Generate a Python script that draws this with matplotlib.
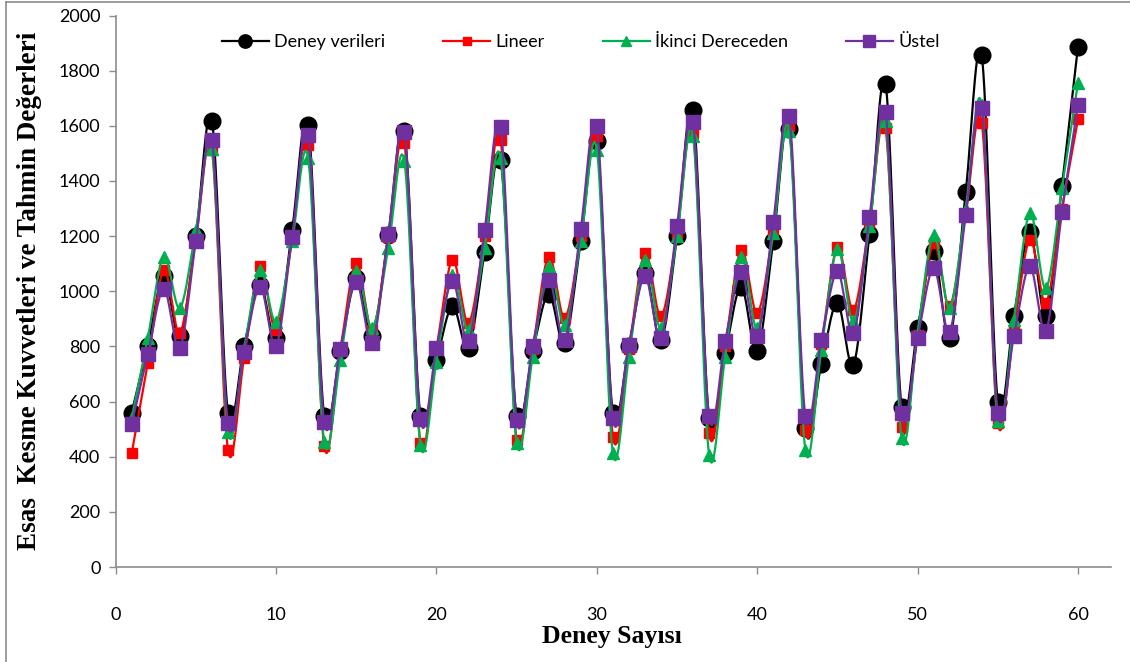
import numpy as np
import matplotlib
matplotlib.use("Agg")
import matplotlib.pyplot as plt
from matplotlib.lines import Line2D

# ---- data ----
deney_sayisi = list(range(1, 61))
deney_verileri = [560, 802, 1054, 836, 1201, 1619, 560, 800, 1024, 830,
                  1221, 1604, 548, 782, 1048, 836, 1205, 1580, 548, 749,
                  947, 794, 1142, 1477, 546, 782, 991, 812, 1181, 1544,
                  560, 802, 1066, 822, 1199, 1656, 540, 776, 1017, 782,
                  1181, 1590, 503, 737, 959, 733, 1209, 1753, 582, 866,
                  1145, 830, 1359, 1855, 600, 909, 1214, 911, 1381, 1887]
lineer = [413, 739, 1078, 848, 1190, 1514, 425, 757, 1090, 860,
          1190, 1532, 439, 785, 1102, 860, 1195, 1538, 451, 790,
          1114, 885, 1200, 1550, 461, 790, 1126, 903, 1200, 1562,
          473, 790, 1139, 909, 1210, 1574, 485, 800, 1151, 921,
          1220, 1600, 497, 810, 1159, 933, 1250, 1592, 509, 840,
          1175, 945, 1280, 1611, 522, 860, 1187, 959, 1300, 1623]
ikinci_dereceden = [540, 830, 1126, 939, 1223, 1516, 491, 790, 1078, 890,
                    1181, 1483, 455, 751, 1072, 866, 1157, 1471, 443, 745,
                    1060, 860, 1157, 1483, 449, 763, 1090, 878, 1181, 1514,
                    413, 763, 1114, 866, 1199, 1562, 407, 763, 1126, 866,
                    1211, 1580, 425, 788, 1155, 891, 1235, 1616, 467, 850,
                    1205, 940, 1300, 1675, 530, 897, 1284, 1011, 1375, 1756]
ustel = [518, 772, 1008, 794, 1184, 1547, 522, 779, 1017, 802,
         1195, 1568, 527, 790, 1032, 812, 1208, 1577, 536, 794,
         1036, 818, 1221, 1596, 534, 802, 1042, 824, 1227, 1598,
         540, 806, 1054, 830, 1238, 1613, 546, 818, 1069, 836,
         1250, 1635, 548, 824, 1072, 848, 1268, 1649, 558, 830,
         1084, 854, 1275, 1665, 558, 836, 1090, 857, 1286, 1677]

series_names = ["Deney verileri", "Lineer", "İkinci Dereceden", "Üstel"]
x_ticks = [0, 10, 20, 30, 40, 50, 60]
y_ticks = [0, 200, 400, 600, 800, 1000, 1200, 1400, 1600, 1800, 2000]


def smooth(xs, ys, n=20):
    """Excel-style smoothed line: cubic Bezier with Catmull-Rom control points."""
    P = np.column_stack([xs, ys]).astype(float)
    m = len(P)
    out = []
    t = np.linspace(0, 1, n)[:, None]
    for i in range(m - 1):
        p0 = P[max(i - 1, 0)]
        p1 = P[i]
        p2 = P[i + 1]
        p3 = P[min(i + 2, m - 1)]
        c1 = p1 + (p2 - p0) / 6.0
        c2 = p2 - (p3 - p1) / 6.0
        seg = ((1 - t) ** 3) * p1 + 3 * ((1 - t) ** 2) * t * c1 + 3 * (1 - t) * t ** 2 * c2 + t ** 3 * p2
        out.append(seg if i == 0 else seg[1:])
    seg = np.vstack(out)
    return seg[:, 0], seg[:, 1]


W, H = 1130, 662
fig = plt.figure(figsize=(W / 100, H / 100), dpi=100)
ax = fig.add_axes([115.7 / W, 1 - 567 / H, (1111 - 115.7) / W, (567 - 15.5) / H])

styles = [
    dict(color="#000000", marker="o", ms=12),
    dict(color="#FF0000", marker="s", ms=7),
    dict(color="#00B050", marker="^", ms=8.5),
    dict(color="#7030A0", marker="s", ms=10),
]
data = [deney_verileri, lineer, ikinci_dereceden, ustel]
handles = []
for k, (vals, st, name) in enumerate(zip(data, styles, series_names)):
    sx, sy = smooth(deney_sayisi, vals)
    ax.plot(sx, sy, color=st["color"], lw=1.6, zorder=2 + k)
    ax.plot(deney_sayisi, vals, linestyle="none", marker=st["marker"], ms=st["ms"],
            color=st["color"], mec=st["color"], zorder=2 + k)
    handles.append(Line2D([], [], color=st["color"], lw=1.6, marker=st["marker"],
                          ms=st["ms"] * 0.8, mec=st["color"]))

ax.set_xlim(0, 62.06)
ax.set_ylim(0, 2000)
ax.set_xticks(x_ticks)
ax.set_yticks(y_ticks)

for lab in ax.get_xticklabels() + ax.get_yticklabels():
    lab.set_fontfamily("Lato")
    lab.set_fontsize(13)

for s in ["top", "right"]:
    ax.spines[s].set_visible(False)
for s in ["left", "bottom"]:
    ax.spines[s].set_color("#8c8c8c")
    ax.spines[s].set_linewidth(1.2)
ax.tick_params(axis="x", direction="out", length=5, width=1, color="#8c8c8c", pad=24)
ax.tick_params(axis="y", direction="out", length=5, width=1, color="#8c8c8c", pad=6)

serif = ["Liberation Serif", "DejaVu Serif"]
fig.text(612 / W, 1 - 636 / H, "Deney Sayısı", family=serif, weight="bold",
         fontsize=18.5, ha="center", va="center")
fig.text(30 / W, 1 - 291 / H, "Esas  Kesme Kuvvetleri ve Tahmin Değerleri", family=serif,
         weight="bold", fontsize=19.5, ha="center", va="center", rotation=90)

leg = ax.legend(handles, series_names, loc="center left", ncol=4, frameon=False,
                bbox_to_anchor=((222 - 115.7) / (1111 - 115.7), (567 - 42) / (567 - 15.5)),
                prop=dict(family="Lato", size=13), handlelength=2.6, handletextpad=0.3,
                columnspacing=3.2, borderaxespad=0, borderpad=0)

# outer chart frame (left and top edges visible)
fig.add_artist(Line2D([6 / W, 6 / W], [0, 1 - 2 / H], color="#8c8c8c", lw=1.2))
fig.add_artist(Line2D([6 / W, 1], [1 - 2 / H, 1 - 2 / H], color="#8c8c8c", lw=1.2))

fig.savefig("out.png", dpi=100)
